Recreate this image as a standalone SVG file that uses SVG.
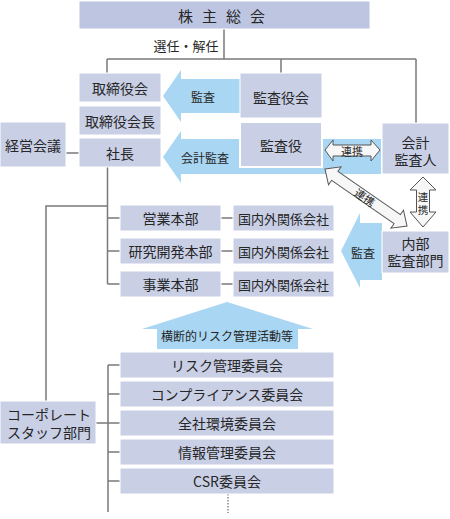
<svg xmlns="http://www.w3.org/2000/svg" width="450" height="519" viewBox="0 0 450 519">
<style>
.box{fill:#c9d0e6;stroke:#ffffff;stroke-width:1}
.top{fill:#bdc5e1}
.t{font-family:"Noto Sans CJK JP","Noto Sans",sans-serif;font-size:14px;fill:#262626;text-anchor:middle;dominant-baseline:central}
.s13{font-size:13px}
.s12{font-size:12px}
.s11{font-size:11px}
.s10{font-size:10.5px}
.ln{stroke:#7a7a7a;stroke-width:1.5;fill:none}
.blue{fill:#a9d6f3}
.wa{fill:#f7f7f7;stroke:#555;stroke-width:1}
</style>
<rect width="450" height="519" fill="#fff"/>
<g id="connectors">
<path class="ln" d="M224,29V59M107,59H416M107,59V73M281,59V73M416,59V123M66,153H79M107.5,167V284M107.5,206H46V401M107.5,218H120M107.5,251H120M107.5,284H120M221,218H233M221,251H233M221,284H233M108,365V512M108,365H120M108,394H120M108,423H120M108,452H120M108,481H120M96,423H108"/>
<path d="M228,494V513" stroke="#666" stroke-width="1.2" stroke-dasharray="1.5,1.5"/>
</g>
<g id="arrow-audit-top">
<polygon class="blue" points="163,96 181,70 181,79 240,79 240,113 181,113 181,122"/>
<text class="t s12" x="203" y="96">監査</text>
</g>
<g id="arrow-accounting-audit">
<polygon class="blue" points="163,157 181,131 181,139 381,139 381,174 181,174 181,183"/>
<text class="t s12" x="205" y="157">会計監査</text>
</g>
<g id="arrow-audit-internal">
<polygon class="blue" points="341,251 360,213 360,223 382,223 382,280 360,280 360,288"/>
<text class="t s12" x="363" y="252">監査</text>
</g>
<g id="arrow-risk">
<polygon class="blue" points="227,302 313,329 298,329 298,349 157,349 157,329 142,329"/>
<text class="t s12" x="227" y="335">横断的リスク管理活動等</text>
</g>
<g id="n-kabunushi"><rect class="box top" x="79" y="1" width="291" height="28"/><text class="t" x="226" y="15" style="font-size:15px;letter-spacing:9px">株主総会</text></g>
<g id="n-torishimariyakukai"><rect class="box" x="79" y="73" width="82" height="29"/><text class="t" x="120" y="87.5">取締役会</text></g>
<g id="n-kaicho"><rect class="box" x="79" y="106" width="82" height="29"/><text class="t" x="120" y="120.5">取締役会長</text></g>
<g id="n-shacho"><rect class="box" x="79" y="138" width="82" height="29"/><text class="t" x="120" y="152.5">社長</text></g>
<g id="n-keiei"><rect class="box" x="0" y="122" width="66" height="45"/><text class="t" x="33" y="145">経営会議</text></g>
<g id="n-kansayakukai"><rect class="box" x="240" y="73" width="82" height="45"/><text class="t" x="281" y="97">監査役会</text></g>
<g id="n-kansayaku"><rect class="box" x="240" y="122" width="82" height="45" style="stroke-width:2"/><text class="t" x="281" y="145">監査役</text></g>
<g id="n-kaikei"><rect class="box" x="382" y="123" width="67" height="51"/><text class="t"><tspan x="415.5" y="141.5">会計</tspan><tspan x="415.5" y="159">監査人</tspan></text></g>
<g id="n-naibu"><rect class="box" x="382" y="231" width="67" height="42"/><text class="t"><tspan x="415.5" y="242.5">内部</tspan><tspan x="415.5" y="260">監査部門</tspan></text></g>
<g id="arrow-renkei-h">
<polygon class="wa" points="325,150 333,140 333,145 371,145 371,140 380,150 371,161 371,156 333,156 333,161"/>
<text class="t s11" x="352" y="150.5">連携</text>
</g>
<g id="arrow-renkei-v">
<polygon class="wa" points="423,177 436,190 429.5,190 429.5,212 436,212 423,227 410,212 416.5,212 416.5,190 410,190"/>
<text class="t s10"><tspan x="423" y="196">連</tspan><tspan x="423" y="208.5">携</tspan></text>
</g>
<g id="arrow-renkei-d" transform="translate(366,197.5) rotate(34.8)">
<polygon class="wa" points="-50,0 -38,-11 -38,-5.5 38,-5.5 38,-11 50,0 38,11 38,5.5 -38,5.5 -38,11"/>
<text class="t s11" x="-1" y="0">連携</text>
</g>
<g id="n-eigyo"><rect class="box" x="120" y="205" width="101" height="26"/><text class="t" x="170.5" y="218">営業本部</text></g>
<g id="n-eigyo-kanren"><rect class="box" x="233" y="205" width="101" height="26"/><text class="t s13" x="283.5" y="218">国内外関係会社</text></g>
<g id="n-kenkyu"><rect class="box" x="120" y="238" width="101" height="26"/><text class="t" x="170.5" y="251">研究開発本部</text></g>
<g id="n-kenkyu-kanren"><rect class="box" x="233" y="238" width="101" height="26"/><text class="t s13" x="283.5" y="251">国内外関係会社</text></g>
<g id="n-jigyo"><rect class="box" x="120" y="271" width="101" height="26"/><text class="t" x="170.5" y="284">事業本部</text></g>
<g id="n-jigyo-kanren"><rect class="box" x="233" y="271" width="101" height="26"/><text class="t s13" x="283.5" y="284">国内外関係会社</text></g>
<g id="n-risk"><rect class="box" x="120" y="352" width="214" height="26"/><text class="t" x="227" y="365">リスク管理委員会</text></g>
<g id="n-compliance"><rect class="box" x="120" y="381" width="214" height="26"/><text class="t" x="227" y="394">コンプライアンス委員会</text></g>
<g id="n-kankyo"><rect class="box" x="120" y="410" width="214" height="26"/><text class="t" x="227" y="423">全社環境委員会</text></g>
<g id="n-joho"><rect class="box" x="120" y="439" width="214" height="26"/><text class="t" x="227" y="452">情報管理委員会</text></g>
<g id="n-csr"><rect class="box" x="120" y="468" width="214" height="26"/><text class="t" x="227" y="481">CSR委員会</text></g>
<g id="n-corporate"><rect class="box" x="0" y="401" width="96" height="43"/><text class="t" style="text-anchor:start"><tspan x="7" y="414">コーポレート</tspan><tspan x="7" y="432">スタッフ部門</tspan></text></g>
<text class="t s13" x="186" y="45">選任・解任</text>
</svg>
